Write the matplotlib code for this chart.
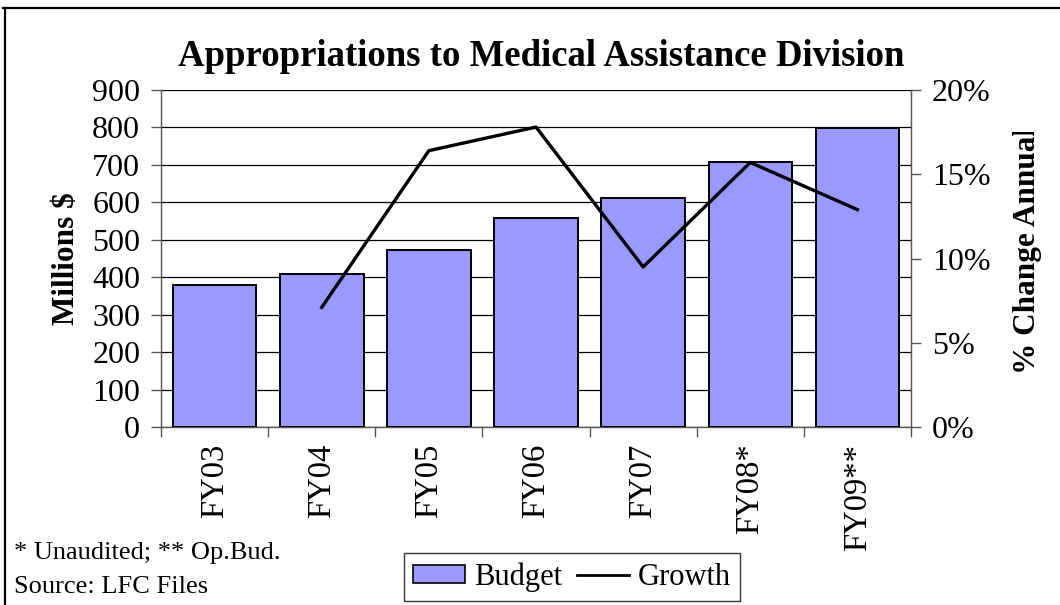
import numpy as np
import matplotlib.pyplot as plt
from matplotlib.lines import Line2D
from matplotlib.transforms import Bbox

years = ["FY03", "FY04", "FY05", "FY06", "FY07", "FY08*", "FY09**"]
budget = [379, 409, 474, 559, 611, 709, 798]
growth_years = ["FY04", "FY05", "FY06", "FY07", "FY08*", "FY09**"]
growth = [7.1, 16.4, 17.8, 9.5, 15.7, 12.9]

plt.rcParams['font.family'] = ['Liberation Serif', 'DejaVu Serif']

W, H = 1060, 605
fig = plt.figure(figsize=(W / 100, H / 100), dpi=100)
ax = fig.add_axes([161 / W, 1 - 427 / H, 750 / W, 337 / H])

x = np.arange(len(years))
ax.bar(x, budget, width=0.78, color='#9999FF', edgecolor='black', linewidth=1.4,
       label='Budget', zorder=3)
ax.set_xlim(-0.5, len(years) - 0.5)
ax.set_ylim(0, 900)
ax.set_yticks(np.arange(0, 901, 100))
ax.yaxis.grid(True, color='black', linewidth=0.9)
ax.set_axisbelow(True)
ax.set_xticks(np.arange(-0.5, len(years), 1.0))
ax.set_xticklabels([])
ax.set_xticks(x, minor=True)
ax.set_xticklabels(years, minor=True, rotation=90, fontsize=23.5)
ax.tick_params(axis='x', which='minor', length=0, pad=12)
ax.tick_params(axis='x', which='major', length=7, width=1, color='#555555')
ax.tick_params(axis='y', labelsize=23, length=7, width=1, color='#555555', pad=8)
ax.set_ylabel('Millions $', fontsize=22.5, fontweight='bold', labelpad=8)
ax.spines['top'].set_visible(False)
for s in ['left', 'bottom', 'right']:
    ax.spines[s].set_color('#555555')
    ax.spines[s].set_linewidth(1)

ax2 = ax.twinx()
gx = [years.index(g) for g in growth_years]
ax2.plot(gx, growth, color='black', linewidth=2.4, zorder=4)
ax2.set_ylim(0, 20)
ax2.set_yticks(np.arange(0, 21, 5))
ax2.set_yticklabels(['%d%%' % v for v in range(0, 21, 5)])
ax2.tick_params(axis='y', labelsize=23, length=7, width=1, color='#555555', pad=8)
for s in ['top', 'left', 'bottom']:
    ax2.spines[s].set_visible(False)
ax2.spines['right'].set_color('#555555')

fig.text(541 / W, 1 - 57 / H, 'Appropriations to Medical Assistance Division',
         fontsize=26.5, fontweight='bold', ha='center', va='center')

rl = fig.text(1027 / W, 1 - 374 / H, '% Change Annual', fontsize=22.5,
              fontweight='bold', rotation=90, ha='center', va='bottom')
rl.set_clip_box(Bbox.from_extents(0, 0, W, H - 132))
rl.set_clip_on(True)

fig.text(14 / W, 1 - 553 / H, '* Unaudited; ** Op.Bud.', fontsize=19,
         ha='left', va='center')
fig.text(14 / W, 1 - 587 / H, 'Source: LFC Files', fontsize=19,
         ha='left', va='center')

handles = [plt.Rectangle((0, 0), 1, 1, facecolor='#9999FF', edgecolor='black', linewidth=1.2),
           Line2D([0], [0], color='black', linewidth=2)]
leg = fig.legend(handles, ['Budget', 'Growth'], loc='center',
                 bbox_to_anchor=(572 / W, 1 - 577 / H), ncol=2, fontsize=22,
                 frameon=True, fancybox=False, edgecolor='black',
                 handlelength=1.7, handleheight=0.5, handletextpad=0.3,
                 columnspacing=0.5, borderpad=0.3)
leg.get_frame().set_linewidth(1)

fig.add_artist(Line2D([3 / W, 1], [1 - 8 / H, 1 - 8 / H], color='black', linewidth=1.6))
fig.add_artist(Line2D([5 / W, 5 / W], [0, 1 - 8 / H], color='black', linewidth=1.6))

fig.savefig('out.png', dpi=100)
